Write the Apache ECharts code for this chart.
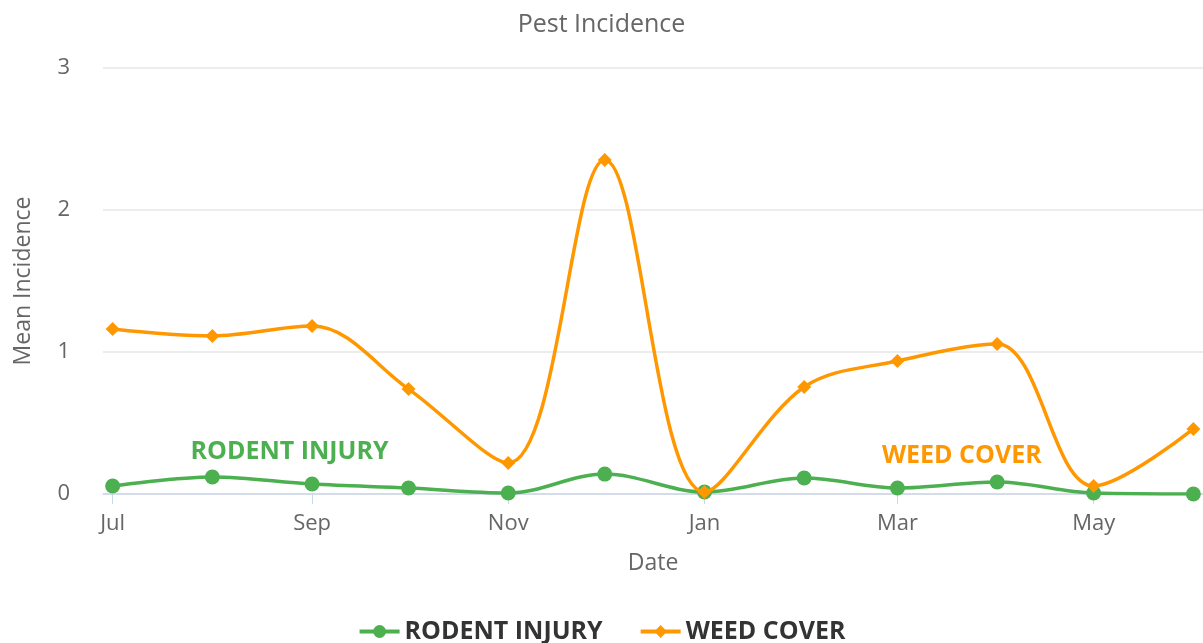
<!DOCTYPE html>
<html>
<head>
<meta charset="utf-8">
<script src="https://cdn.jsdelivr.net/npm/echarts@6/dist/echarts.min.js"></script>
<style>html,body{margin:0;padding:0;background:#fff}#c{width:1203px;height:643px}</style>
</head>
<body>
<div id="c"></div>
<script>
const dates = ['2019-07-01','2019-08-01','2019-09-01','2019-10-01','2019-11-01','2019-12-01','2020-01-01','2020-02-01','2020-03-01','2020-04-01','2020-05-01','2020-06-01'];
const rodentInjury = [0.056, 0.12, 0.07, 0.042, 0.007, 0.14, 0.014, 0.113, 0.042, 0.085, 0.007, 0.0];
const weedCover = [1.162, 1.113, 1.183, 0.739, 0.218, 2.352, 0.014, 0.754, 0.937, 1.056, 0.056, 0.458];
const monthNames = ['Jan','Feb','Mar','Apr','May','Jun','Jul','Aug','Sep','Oct','Nov','Dec'];
const yTicks = [0, 1, 2, 3];
const FONT = '"Open Sans", "DejaVu Sans", sans-serif';

const chart = echarts.init(document.getElementById('c'));
chart.setOption({
  animation: false,
  textStyle: { fontFamily: FONT },
  title: {
    text: 'Pest Incidence', left: 'center', top: 7,
    textStyle: { fontFamily: FONT, fontSize: 25, fontWeight: 'normal', color: '#666' }
  },
  legend: {
    bottom: -6, itemGap: 36, itemWidth: 40, itemHeight: 16,
    lineStyle: { width: 4 },
    textStyle: { fontFamily: FONT, fontSize: 25, fontWeight: 'bold', color: '#333' },
    data: ['RODENT INJURY', 'WEED COVER']
  },
  grid: { left: 103, right: 0, top: 68, bottom: 149, containLabel: false, outerBoundsMode: 'none' },
  xAxis: {
    type: 'time',
    min: new Date(2019, 5, 28).getTime(),
    max: new Date(2020, 5, 4).getTime(),
    minInterval: 61 * 86400000,
    maxInterval: 61 * 86400000,
    name: 'Date', nameLocation: 'middle', nameGap: 58,
    nameTextStyle: { fontFamily: FONT, fontSize: 23, color: '#666' },
    axisLine: { lineStyle: { color: '#ccd6eb', width: 1.5 } },
    axisTick: { show: true, length: 10, lineStyle: { color: '#ccd6eb' } },
    axisLabel: {
      fontFamily: FONT, fontSize: 22, color: '#666', margin: 19,
      formatter: v => monthNames[new Date(v).getMonth()]
    },
    splitLine: { show: false }
  },
  yAxis: {
    type: 'value', min: yTicks[0], max: yTicks[yTicks.length - 1], interval: 1,
    name: 'Mean Incidence', nameLocation: 'middle', nameGap: 68, nameRotate: 90,
    nameTextStyle: { fontFamily: FONT, fontSize: 23, color: '#666' },
    axisLine: { show: false }, axisTick: { show: false },
    axisLabel: { fontFamily: FONT, fontSize: 22, color: '#666', margin: 33 },
    splitLine: { lineStyle: { color: '#e6e6e6', width: 1.5 } }
  },
  series: [
    {
      name: 'RODENT INJURY', type: 'line', smooth: 0.35,
      data: dates.map((d, i) => [d, rodentInjury[i]]),
      symbol: 'circle', symbolSize: 15, showAllSymbol: true,
      itemStyle: { color: '#4caf50' },
      lineStyle: { color: '#4caf50', width: 3.5 },
      z: 3,
      markPoint: {
        symbol: 'circle', symbolSize: 0,
        label: { show: true, formatter: 'RODENT INJURY', color: '#4caf50', fontFamily: FONT, fontSize: 25, fontWeight: 'bold', position: 'inside' },
        data: [{ coord: ['2019-08-25', 0.296] }]
      }
    },
    {
      name: 'WEED COVER', type: 'line', smooth: 0.35,
      data: dates.map((d, i) => [d, weedCover[i]]),
      symbol: 'diamond', symbolSize: 14, showAllSymbol: true,
      itemStyle: { color: '#ff9800' },
      lineStyle: { color: '#ff9800', width: 3.5 },
      z: 4,
      markPoint: {
        symbol: 'circle', symbolSize: 0,
        label: { show: true, formatter: 'WEED COVER', color: '#ff9800', fontFamily: FONT, fontSize: 25, fontWeight: 'bold', position: 'inside' },
        data: [{ coord: ['2020-03-21', 0.268] }]
      }
    }
  ]
});
</script>
</body>
</html>
